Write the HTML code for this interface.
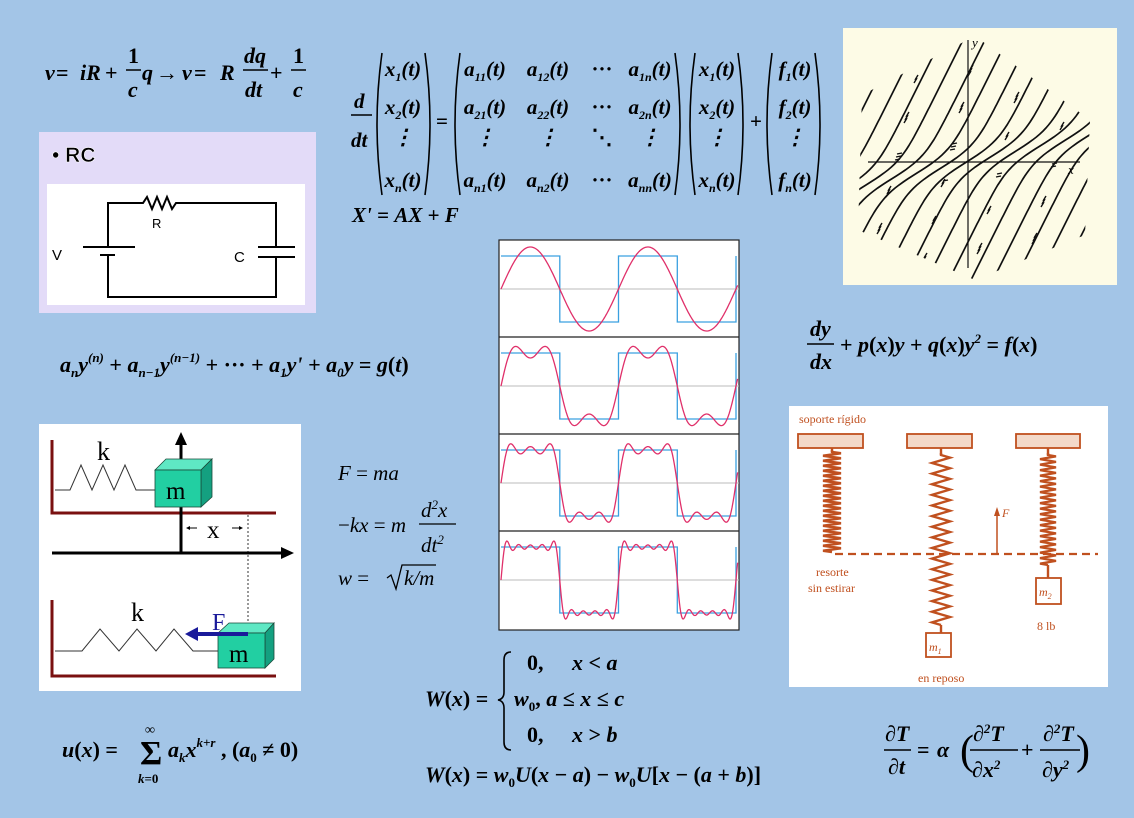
<!DOCTYPE html>
<html><head><meta charset="utf-8"><style>
html,body{margin:0;padding:0;background:#a3c5e7;}
svg{display:block;}
.m{font-family:"Liberation Serif",serif;font-weight:bold;font-style:italic;font-size:22px;fill:#000;}
.r{font-family:"Liberation Serif",serif;font-size:21px;font-style:italic;fill:#000;}
.o{font-family:"Liberation Serif",serif;font-size:12px;fill:#c0501f;}
</style></head><body>
<svg id="s" width="1134" height="818" viewBox="0 0 1134 818" xmlns="http://www.w3.org/2000/svg">
<rect width="1134" height="818" fill="#a3c5e7"/>
<g class="m">
<text x="45" y="80">v</text><text x="56" y="80" style="font-style:normal">=</text>
<text x="80" y="80">iR</text><text x="105" y="80" style="font-style:normal">+</text>
<text x="128" y="63" style="font-style:normal">1</text><line x1="126" y1="70" x2="141" y2="70" stroke="#000" stroke-width="1.5"/><text x="128" y="97">c</text>
<text x="142" y="80">q</text><text x="156" y="80" style="font-style:normal">→</text>
<text x="182" y="80">v</text><text x="194" y="80" style="font-style:normal">=</text>
<text x="220" y="80">R</text>
<text x="244" y="63">dq</text><line x1="243" y1="70" x2="268" y2="70" stroke="#000" stroke-width="1.5"/><text x="245" y="97">dt</text>
<text x="270" y="80" style="font-style:normal">+</text>
<text x="293" y="63" style="font-style:normal">1</text><line x1="291" y1="70" x2="306" y2="70" stroke="#000" stroke-width="1.5"/><text x="293" y="97">c</text>
</g>
<rect x="39" y="132" width="277" height="181" fill="#e3dbf8"/>
<text x="52" y="162" font-family="Liberation Sans,sans-serif" font-weight="bold" font-size="21" fill="#000" stroke="#fff" stroke-width="0.6">• RC</text>
<rect x="47" y="184" width="258" height="121" fill="#fff"/>
<g stroke="#000" stroke-width="2" fill="none">
<path d="M108 247 V203 H143 l4 -6 l5 12 l5 -12 l5 12 l5 -12 l5 12 l4 -6 H276 V247"/>
<path d="M276 257 V297 H108 V255"/>
<path d="M258 247 H295 M258 257 H295"/>
<path d="M83 247 H135 M100 255 H115"/>
</g>
<text x="52" y="260" font-family="Liberation Sans,sans-serif" font-size="15">V</text>
<text x="152" y="228" font-family="Liberation Sans,sans-serif" font-size="13">R</text>
<text x="234" y="262" font-family="Liberation Sans,sans-serif" font-size="15">C</text>
<g id="mat" class="m" style="font-size:21px">
<text x="354" y="108">d</text><line x1="351" y1="115" x2="372" y2="115" stroke="#000" stroke-width="1.5"/><text x="351" y="147">dt</text>
<text x="436" y="128" style="font-style:normal">=</text>
<text x="750" y="128" style="font-style:normal">+</text>
<g text-anchor="middle">
<text x="403" y="76">x<tspan font-size="12" dy="5">1</tspan><tspan dy="-5">(t)</tspan></text>
<text x="403" y="114">x<tspan font-size="12" dy="5">2</tspan><tspan dy="-5">(t)</tspan></text>
<text x="403" y="144">⋮</text>
<text x="403" y="187">x<tspan font-size="12" dy="5">n</tspan><tspan dy="-5">(t)</tspan></text>
<text x="485" y="76">a<tspan font-size="12" dy="5">11</tspan><tspan dy="-5">(t)</tspan></text>
<text x="548" y="76">a<tspan font-size="12" dy="5">12</tspan><tspan dy="-5">(t)</tspan></text>
<text x="602" y="76" style="font-style:normal">···</text>
<text x="650" y="76">a<tspan font-size="12" dy="5">1n</tspan><tspan dy="-5">(t)</tspan></text>
<text x="485" y="114">a<tspan font-size="12" dy="5">21</tspan><tspan dy="-5">(t)</tspan></text>
<text x="548" y="114">a<tspan font-size="12" dy="5">22</tspan><tspan dy="-5">(t)</tspan></text>
<text x="602" y="114" style="font-style:normal">···</text>
<text x="650" y="114">a<tspan font-size="12" dy="5">2n</tspan><tspan dy="-5">(t)</tspan></text>
<text x="485" y="144">⋮</text><text x="548" y="144">⋮</text><text x="602" y="144" style="font-style:normal">⋱</text><text x="650" y="144">⋮</text>
<text x="485" y="187">a<tspan font-size="12" dy="5">n1</tspan><tspan dy="-5">(t)</tspan></text>
<text x="548" y="187">a<tspan font-size="12" dy="5">n2</tspan><tspan dy="-5">(t)</tspan></text>
<text x="602" y="187" style="font-style:normal">···</text>
<text x="650" y="187">a<tspan font-size="12" dy="5">nn</tspan><tspan dy="-5">(t)</tspan></text>
<text x="717" y="76">x<tspan font-size="12" dy="5">1</tspan><tspan dy="-5">(t)</tspan></text>
<text x="717" y="114">x<tspan font-size="12" dy="5">2</tspan><tspan dy="-5">(t)</tspan></text>
<text x="717" y="144">⋮</text>
<text x="717" y="187">x<tspan font-size="12" dy="5">n</tspan><tspan dy="-5">(t)</tspan></text>
<text x="795" y="76">f<tspan font-size="12" dy="5">1</tspan><tspan dy="-5">(t)</tspan></text>
<text x="795" y="114">f<tspan font-size="12" dy="5">2</tspan><tspan dy="-5">(t)</tspan></text>
<text x="795" y="144">⋮</text>
<text x="795" y="187">f<tspan font-size="12" dy="5">n</tspan><tspan dy="-5">(t)</tspan></text>
</g>
<text x="352" y="222">X'<tspan style="font-style:normal"> = </tspan>AX<tspan style="font-style:normal"> + </tspan>F</text>
</g>
<g stroke="#000" stroke-width="1.6" fill="none" id="parens"></g>
<rect x="843" y="28" width="274" height="257" fill="#fdfbe6"/>
<clipPath id="pc"><polygon points="862,95 975,36 1090,120 1085,235 975,280 858,230"/></clipPath>
<g id="flow" stroke="#111" stroke-width="1.7" fill="none" clip-path="url(#pc)"></g>
<g stroke="#111" stroke-width="1.2">
<line x1="968" y1="40" x2="968" y2="268"/><line x1="868" y1="162" x2="1080" y2="162"/>
</g>
<text x="972" y="47" font-family="Liberation Serif,serif" font-style="italic" font-size="13">y</text>
<text x="1068" y="174" font-family="Liberation Serif,serif" font-style="italic" font-size="13">x</text>
<rect x="499" y="240" width="240" height="390" fill="#fff" stroke="#222" stroke-width="1.2"/>
<g id="waves"></g>
<g class="m">
<text x="810" y="336">dy</text><line x1="807" y1="344" x2="834" y2="344" stroke="#000" stroke-width="1.5"/><text x="810" y="369">dx</text>
<text x="840" y="352"><tspan style="font-style:normal">+ </tspan>p<tspan style="font-style:normal">(</tspan>x<tspan style="font-style:normal">)</tspan>y<tspan style="font-style:normal"> + </tspan>q<tspan style="font-style:normal">(</tspan>x<tspan style="font-style:normal">)</tspan>y<tspan font-size="13" dy="-9">2</tspan><tspan dy="9" style="font-style:normal"> = </tspan>f<tspan style="font-style:normal">(</tspan>x<tspan style="font-style:normal">)</tspan></text>
</g>
<text class="m" x="60" y="372">a<tspan font-size="13" dy="5">n</tspan><tspan dy="-5">y</tspan><tspan font-size="13" dy="-10">(n)</tspan><tspan dy="10" style="font-style:normal"> + </tspan>a<tspan font-size="13" dy="5">n−1</tspan><tspan dy="-5">y</tspan><tspan font-size="13" dy="-10">(n−1)</tspan><tspan dy="10" style="font-style:normal"> + ··· + </tspan>a<tspan font-size="13" dy="5">1</tspan><tspan dy="-5">y' + </tspan>a<tspan font-size="13" dy="5">0</tspan><tspan dy="-5">y</tspan><tspan style="font-style:normal"> = </tspan>g<tspan style="font-style:normal">(</tspan>t<tspan style="font-style:normal">)</tspan></text>
<rect x="39" y="424" width="262" height="267" fill="#fff"/>
<g stroke="#7a1010" stroke-width="3" fill="none">
<path d="M52 440 V513 H276"/><path d="M52 600 V676 H276"/>
</g>
<g stroke="#333" stroke-width="1" fill="none">
<path d="M55 490 H70 l11 -25 l11 25 l11 -25 l11 25 l11 -25 l11 25 H155"/>
<path d="M55 651 H82 l18 -22 l19 22 l18 -22 l19 22 l18 -22 l19 22 H218"/>
<line x1="248" y1="515" x2="248" y2="632" stroke-dasharray="2,2"/>
</g>
<g stroke="#000" stroke-width="3">
<line x1="181" y1="553" x2="181" y2="442"/><line x1="52" y1="553" x2="283" y2="553"/>
</g>
<polygon points="181,432 175,445 187,445" fill="#000"/><polygon points="294,553 281,547 281,559" fill="#000"/>
<g stroke="#000" stroke-width="1"><line x1="187" y1="528" x2="197" y2="528"/><line x1="232" y1="528" x2="242" y2="528"/></g>
<polygon points="186,528 190,526 190,530"/><polygon points="243,528 239,526 239,530"/>
<text x="207" y="538" font-family="Liberation Serif,serif" font-size="25">x</text>
<text x="97" y="460" font-family="Liberation Serif,serif" font-size="26">k</text>
<text x="131" y="621" font-family="Liberation Serif,serif" font-size="26">k</text>
<g stroke="#1a4a3a" stroke-width="0.8">
<polygon points="155,470 166,459 212,459 201,470" fill="#5fe8c4"/><polygon points="201,470 212,459 212,497 201,507" fill="#14a080"/><rect x="155" y="470" width="46" height="37" fill="#22cfa2"/>
<polygon points="218,633 229,623 274,623 265,633" fill="#5fe8c4"/><polygon points="265,633 274,623 274,659 265,668" fill="#14a080"/><rect x="218" y="633" width="47" height="35" fill="#22cfa2"/>
</g>
<text x="166" y="499" font-family="Liberation Serif,serif" font-size="25">m</text>
<text x="229" y="662" font-family="Liberation Serif,serif" font-size="25">m</text>
<text x="212" y="630" font-family="Liberation Serif,serif" font-size="24" fill="#1a1a9a">F</text>
<line x1="248" y1="634" x2="196" y2="634" stroke="#1a1a9a" stroke-width="4"/><polygon points="185,634 198,627 198,641" fill="#1a1a9a"/>
<g class="r">
<text x="338" y="480">F<tspan style="font-style:normal"> = </tspan>ma</text>
<text x="338" y="532"><tspan style="font-style:normal">−</tspan>kx<tspan style="font-style:normal"> = </tspan>m</text>
<text x="421" y="517">d<tspan font-size="13" dy="-8">2</tspan><tspan dy="8">x</tspan></text><line x1="419" y1="524" x2="456" y2="524" stroke="#000" stroke-width="1.3"/><text x="421" y="552">dt<tspan font-size="13" dy="-8">2</tspan></text>
<text x="338" y="585">w<tspan style="font-style:normal"> = </tspan></text>
<path d="M387 578 l4 -3 l5 14 l6 -24 h34" stroke="#000" stroke-width="1.3" fill="none"/>
<text x="404" y="585">k/m</text>
</g>
<rect x="789" y="406" width="319" height="281" fill="#fff"/>
<g fill="#f3d9c9" stroke="#c0501f" stroke-width="1.8">
<rect x="798" y="434" width="65" height="14"/><rect x="907" y="434" width="65" height="14"/><rect x="1016" y="434" width="64" height="14"/>
</g>
<g id="spr" stroke="#c0501f" stroke-width="2.4" fill="none"></g>
<line x1="835" y1="554" x2="1098" y2="554" stroke="#c0501f" stroke-width="2.2" stroke-dasharray="8,5"/>
<line x1="997" y1="554" x2="997" y2="514" stroke="#c0501f" stroke-width="1.5"/><polygon points="997,507 994,516 1000,516" fill="#c0501f"/>
<text x="1002" y="517" class="o" font-style="italic">F</text>
<g fill="#fff" stroke="#c0501f" stroke-width="1.8">
<rect x="926" y="633" width="25" height="24"/><rect x="1036" y="578" width="25" height="26"/>
</g>
<text x="929" y="651" class="o" font-style="italic">m<tspan font-size="8" dy="3">1</tspan></text>
<text x="1039" y="596" class="o" font-style="italic">m<tspan font-size="8" dy="3">2</tspan></text>
<text x="799" y="423" class="o">soporte rígido</text>
<text x="816" y="576" class="o">resorte</text>
<text x="808" y="592" class="o">sin  estirar</text>
<text x="918" y="682" class="o">en reposo</text>
<text x="1037" y="630" class="o" font-size="14">8 lb</text>
<g class="m">
<text x="425" y="706">W<tspan style="font-style:normal">(</tspan>x<tspan style="font-style:normal">) =</tspan></text>
<text x="527" y="670" style="font-style:normal">0,</text><text x="572" y="670">x<tspan style="font-style:normal"> &lt; </tspan>a</text>
<text x="514" y="706">w<tspan font-size="13" dy="5" style="font-style:normal">0</tspan><tspan dy="-5" style="font-style:normal">, </tspan>a<tspan style="font-style:normal"> ≤ </tspan>x<tspan style="font-style:normal"> ≤ </tspan>c</text>
<text x="527" y="742" style="font-style:normal">0,</text><text x="572" y="742">x<tspan style="font-style:normal"> &gt; </tspan>b</text>
<text x="425" y="782">W<tspan style="font-style:normal">(</tspan>x<tspan style="font-style:normal">) = </tspan>w<tspan font-size="13" dy="5" style="font-style:normal">0</tspan><tspan dy="-5">U</tspan><tspan style="font-style:normal">(</tspan>x<tspan style="font-style:normal"> − </tspan>a<tspan style="font-style:normal">) − </tspan>w<tspan font-size="13" dy="5" style="font-style:normal">0</tspan><tspan dy="-5">U</tspan><tspan style="font-style:normal">[</tspan>x<tspan style="font-style:normal"> − (</tspan>a<tspan style="font-style:normal"> + </tspan>b<tspan style="font-style:normal">)]</tspan></text>
</g>
<g class="m">
<text x="62" y="757">u<tspan style="font-style:normal">(</tspan>x<tspan style="font-style:normal">) =</tspan></text>
<text x="140" y="764" font-size="34" style="font-style:normal">Σ</text>
<text x="145" y="734" font-size="14" style="font-style:normal">∞</text>
<text x="138" y="783" font-size="13">k<tspan style="font-style:normal">=0</tspan></text>
<text x="168" y="757">a<tspan font-size="13" dy="5">k</tspan><tspan dy="-5">x</tspan><tspan font-size="13" dy="-10">k+r</tspan><tspan dy="10" style="font-style:normal"> ,  (</tspan>a<tspan font-size="13" dy="5" style="font-style:normal">0</tspan><tspan dy="-5" style="font-style:normal"> ≠ 0)</tspan></text>
</g>
<g class="m">
<text x="885" y="741">∂T</text><line x1="884" y1="750" x2="911" y2="750" stroke="#000" stroke-width="1.5"/><text x="888" y="774">∂t</text>
<text x="917" y="757" style="font-style:normal">= </text><text x="937" y="757">α</text>
<text x="960" y="764" font-size="42" style="font-style:normal;font-weight:normal">(</text>
<text x="973" y="741">∂<tspan font-size="13" dy="-8">2</tspan><tspan dy="8">T</tspan></text><line x1="970" y1="750" x2="1018" y2="750" stroke="#000" stroke-width="1.5"/><text x="972" y="777">∂x<tspan font-size="13" dy="-8">2</tspan></text>
<text x="1021" y="757" style="font-style:normal">+</text>
<text x="1043" y="741">∂<tspan font-size="13" dy="-8">2</tspan><tspan dy="8">T</tspan></text><line x1="1040" y1="750" x2="1080" y2="750" stroke="#000" stroke-width="1.5"/><text x="1042" y="777">∂y<tspan font-size="13" dy="-8">2</tspan></text>
<text x="1076" y="764" font-size="42" style="font-style:normal;font-weight:normal">)</text>
</g>
</svg>
<script>
var NS="http://www.w3.org/2000/svg";
function P(g,d,a){var p=document.createElementNS(NS,"path");p.setAttribute("d",d);for(var k in a)p.setAttribute(k,a[k]);document.getElementById(g).appendChild(p);}
[[375,432],[453,682],[688,745],[765,822]].forEach(function(q){
P("parens","M"+(q[0]+7)+" 53 Q"+(q[0]-3)+" 124 "+(q[0]+7)+" 195");
P("parens","M"+(q[1]-7)+" 53 Q"+(q[1]+3)+" 124 "+(q[1]-7)+" 195");});
P("parens","M511 652 Q504 652 504 660 V692 Q504 699 498 700 Q504 701 504 708 V742 Q504 750 511 750",{"stroke-width":"1.6"});
var N=[[1],[1,3],[1,3,5],[1,3,5,7,9]];
for(var k=0;k<4;k++){var T=240+97*k,mid=T+49,A=33;
P("waves","M500 "+mid+" H739",{stroke:"#bbb","stroke-width":"1"});
if(k>0)P("waves","M499 "+T+" H739",{stroke:"#222","stroke-width":"1.2"});
var x0=501,per=117.5;
var d="M501 "+(mid-A);
for(var i=1;i<=4;i++){var xx=x0+per/2*i;var y1=(i%2?mid+A:mid-A);d+=" H"+xx.toFixed(1)+" V"+y1;}
P("waves",d,{stroke:"#3aa0e0","stroke-width":"1.3",fill:"none"});
var w="";for(var x=501;x<=738;x+=0.7){var th=2*Math.PI*(x-x0)/per,s=0;N[k].forEach(function(n){s+=Math.sin(n*th)/n;});var y=mid-A*4/Math.PI*s;w+=(w?"L":"M")+x.toFixed(1)+" "+y.toFixed(1);}
P("waves",w,{stroke:"#e0306a","stroke-width":"1.3",fill:"none"});}
for(var s=-200;s<=200;s+=22){var d="";for(var u=-140;u<=140;u+=3){var c=s*0.25;var x=968+s+24*Math.tanh((u-c)/22)+0.5*u;var y=162-u;d+=(d?"L":"M")+x.toFixed(1)+" "+y.toFixed(1);}P("flow",d);}
for(var i=0;i<60;i++){var px=870+((i*73)%210),py=50+((i*131)%215);var u=162-py;P("flow","M"+px+" "+py+" l"+(u*u<400?5:3)+" "+(u*u<400?-1:-5),{"stroke-width":"1.4"});}
function coil(cx,y0,y1,w,n){var d="M"+cx+" "+(y0-2)+" V"+y0;var h=(y1-y0)/n;for(var i=0;i<n;i++){var y=y0+i*h;d+=" L"+(cx+w)+" "+(y+h*0.25)+" L"+(cx-w)+" "+(y+h*0.75);}d+=" L"+cx+" "+y1;P("spr",d);}
coil(832,452,552,9,20);coil(941,455,625,9,16);coil(1048,455,565,8,20);
P("spr","M941 448 V455 M941 625 V633 M1048 448 V455 M1048 565 V578 M832 448 V452");
</script>
</body></html>
